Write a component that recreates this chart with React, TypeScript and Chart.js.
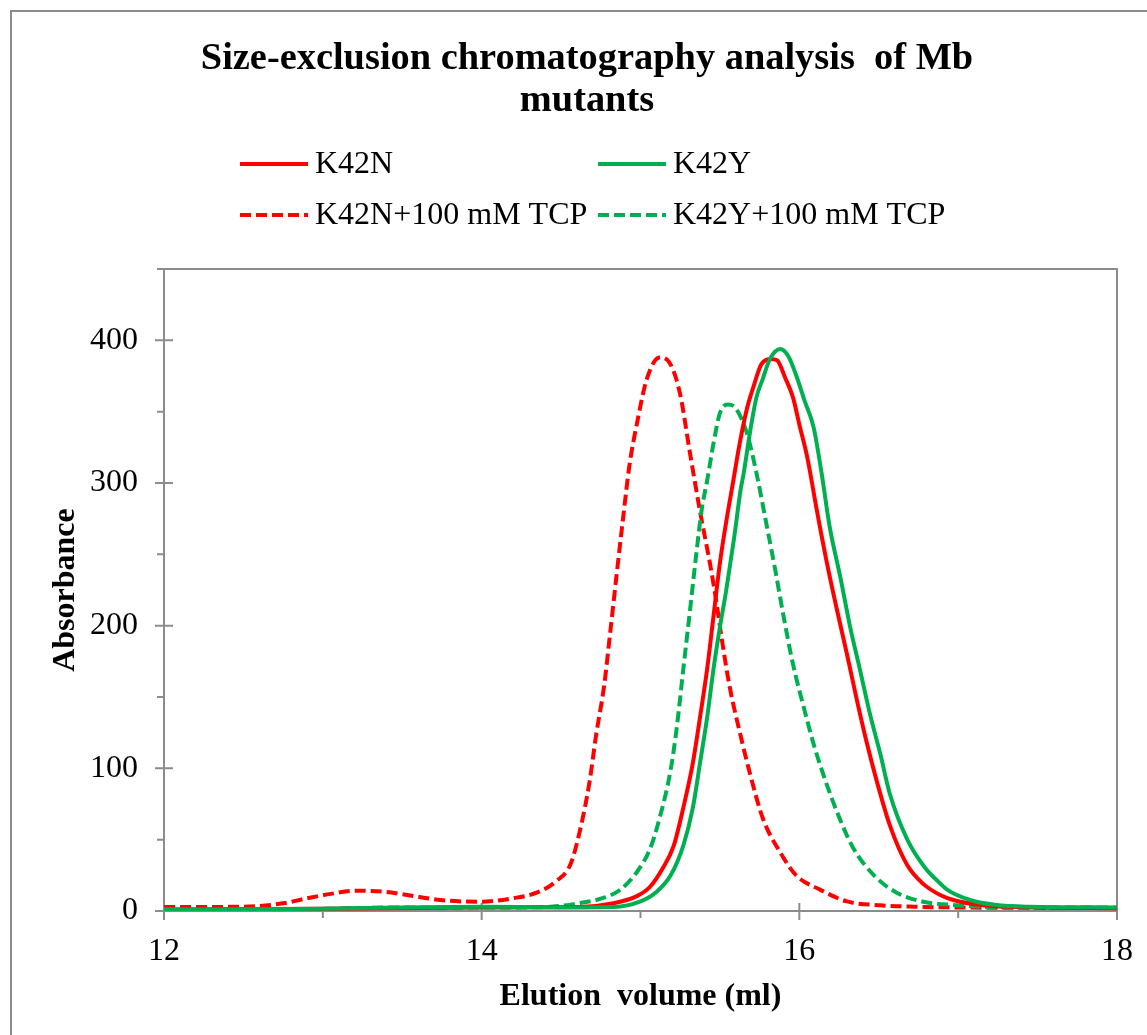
import React, { useEffect, useRef } from "react";
import { Chart, registerables } from "chart.js";

Chart.register(...registerables);

// ---------- data ----------
const titleLines = ["Size-exclusion chromatography analysis  of Mb", "mutants"];
const xTitle = "Elution  volume (ml)";
const yTitle = "Absorbance";
const seriesNames = ["K42N", "K42Y", "K42N+100 mM TCP", "K42Y+100 mM TCP"];

const xTicks = [12, 14, 16, 18];
const xMinorTicks = [13, 15, 17];
const yTicks = [0, 100, 200, 300, 400];
const yMinorTicks = [50, 150, 250, 350, 450];

// K42N (red solid)
const k42nX = [12, 13, 14, 14.62, 14.83, 14.98, 15.06, 15.14, 15.21, 15.27, 15.33, 15.375, 15.42, 15.46, 15.5, 15.54, 15.585, 15.62, 15.67, 15.71, 15.76, 15.815, 15.86, 15.91, 15.96, 16.0, 16.05, 16.11, 16.17, 16.235, 16.3, 16.36, 16.42, 16.49, 16.57, 16.68, 16.78, 16.89, 16.97, 17.14, 17.5, 18];
const k42nY = [1, 1.5, 2.5, 2.8, 5.4, 10.6, 17, 30, 46, 72.6, 104, 136, 170, 207, 244, 273, 302, 325, 352, 367, 383, 387, 386, 374, 360, 341, 318, 281, 246, 212, 180, 149, 120, 90, 60, 32, 19, 11, 7.7, 4.2, 2.5, 2];

// K42Y (green solid)
const k42yX = [12, 13, 13.5, 14, 14.5, 14.83, 15.0, 15.1, 15.19, 15.27, 15.33, 15.375, 15.42, 15.46, 15.5, 15.54, 15.59, 15.63, 15.65, 15.69, 15.73, 15.77, 15.815, 15.88, 15.93, 15.98, 16.035, 16.09, 16.14, 16.19, 16.26, 16.32, 16.38, 16.445, 16.51, 16.57, 16.68, 16.79, 16.89, 16.93, 17.075, 17.24, 17.45, 18];
const k42yY = [1, 1.5, 2.5, 3, 2.5, 2.8, 6.7, 13.3, 25, 46, 72.6, 104, 136, 170, 199, 225, 262, 295, 307, 336, 360, 373, 387, 394, 389, 375.5, 357, 339, 307, 270, 233, 199, 170, 138, 110, 82, 50, 30.5, 19, 15, 7.7, 4.2, 3, 2.5];

// K42N + 100 mM TCP (red dashed)
const k42nTcpX = [12.0, 12.5, 12.75, 12.9, 13.05, 13.21, 13.38, 13.53, 13.74, 13.99, 14.2, 14.35, 14.47, 14.56, 14.62, 14.68, 14.72, 14.77, 14.81, 14.85, 14.89, 14.93, 14.98, 15.04, 15.12, 15.19, 15.25, 15.31, 15.375, 15.44, 15.48, 15.51, 15.56, 15.63, 15.69, 15.77, 15.88, 15.98, 16.13, 16.3, 16.51, 16.72, 17.0, 17.5, 18.0];
const k42nTcpY = [2.8, 3, 5.4, 8.9, 12, 14.2, 13.5, 11.2, 7.7, 6.5, 9, 13, 21, 33, 57, 91, 123, 157, 196, 236, 275, 312, 343, 373, 388, 383, 362, 322, 280, 242, 215, 192, 158, 123, 96, 65, 41, 25, 15, 6.7, 4, 3, 2.5, 2.2, 2.0];

// K42Y + 100 mM TCP (green dashed)
const k42yTcpX = [12, 12.5, 13, 13.5, 14, 14.2, 14.41, 14.62, 14.77, 14.87, 14.98, 15.06, 15.12, 15.19, 15.23, 15.27, 15.31, 15.35, 15.385, 15.42, 15.46, 15.5, 15.55, 15.585, 15.64, 15.68, 15.73, 15.795, 15.85, 15.9, 15.96, 16.025, 16.09, 16.15, 16.235, 16.34, 16.47, 16.61, 16.78, 17.0, 17.14, 17.5, 18];
const k42yTcpY = [1, 1.2, 1.5, 2.5, 2.5, 2.5, 2.8, 5.6, 9.3, 14.7, 27.7, 43.6, 65, 99, 130, 170, 209, 249, 281, 302, 328, 349, 355, 354, 344, 331, 307, 270, 238, 207, 173, 144, 117, 96, 70, 44, 25, 13, 6.5, 4, 3, 2.5, 2.5];

// ---------- style ----------
const RED = "#FF0000";
const GREEN = "#00B050";
const AXIS = "#8c8c8c";
const SERIF = "'Liberation Serif', 'Times New Roman', serif";
const DASH = [11, 5];
const LINE_W = 4;

const toPoints = (xs: number[], ys: number[]) => xs.map((x, i) => ({ x, y: ys[i] }));

const decorPlugin = {
  id: "decor",
  beforeDatasetsDraw(chart: any) {
    const { ctx, chartArea: ca, scales } = chart;
    const x = scales.x;
    const y = scales.y;
    ctx.save();
    ctx.strokeStyle = AXIS;
    ctx.lineWidth = 2;
    ctx.strokeRect(ca.left, ca.top, ca.right - ca.left, ca.bottom - ca.top);
    ctx.beginPath();
    for (const v of yTicks) {
      const p = y.getPixelForValue(v);
      ctx.moveTo(ca.left - 9, p);
      ctx.lineTo(ca.left + 9, p);
    }
    for (const v of yMinorTicks) {
      const p = y.getPixelForValue(v);
      ctx.moveTo(ca.left - 7, p);
      ctx.lineTo(ca.left, p);
    }
    for (const v of xTicks) {
      const p = x.getPixelForValue(v);
      ctx.moveTo(p, ca.bottom - 8);
      ctx.lineTo(p, ca.bottom + 9);
    }
    for (const v of xMinorTicks) {
      const p = x.getPixelForValue(v);
      ctx.moveTo(p, ca.bottom);
      ctx.lineTo(p, ca.bottom + 7);
    }
    ctx.stroke();
    ctx.restore();
  },
  afterDraw(chart: any) {
    const { ctx } = chart;
    ctx.save();
    // outer frame (left/top visible)
    ctx.strokeStyle = AXIS;
    ctx.lineWidth = 2;
    ctx.beginPath();
    ctx.moveTo(11, 1035);
    ctx.lineTo(11, 11);
    ctx.lineTo(1147, 11);
    ctx.stroke();

    // title
    ctx.fillStyle = "#000";
    ctx.font = `bold 38.4px ${SERIF}`;
    ctx.textAlign = "center";
    ctx.textBaseline = "alphabetic";
    ctx.fillText(titleLines[0], 587, 69);
    ctx.fillText(titleLines[1], 587, 111);

    // legend
    const ds = chart.data.datasets;
    const pos = [
      { x: 240, y: 164 },
      { x: 598, y: 164 },
      { x: 240, y: 215 },
      { x: 598, y: 215 },
    ];
    ctx.font = `32px ${SERIF}`;
    ctx.textAlign = "left";
    ctx.textBaseline = "middle";
    ds.forEach((d: any, i: number) => {
      const p = pos[i];
      ctx.save();
      ctx.strokeStyle = d.borderColor;
      ctx.lineWidth = LINE_W;
      ctx.setLineDash(d.borderDash || []);
      ctx.beginPath();
      ctx.moveTo(p.x, p.y);
      ctx.lineTo(p.x + 68, p.y);
      ctx.stroke();
      ctx.restore();
      ctx.fillStyle = "#000";
      ctx.fillText(d.label, p.x + 75, p.y + 1);
    });
    ctx.restore();
  },
};

export default function App() {
  const ref = useRef<HTMLCanvasElement | null>(null);

  useEffect(() => {
    document.body.style.margin = "0";
    const canvas = ref.current;
    if (!canvas) return;
    const mk = (label: string, xs: number[], ys: number[], color: string, dashed: boolean, order: number) => ({
      label,
      data: toPoints(xs, ys),
      borderColor: color,
      backgroundColor: color,
      borderWidth: LINE_W,
      borderDash: dashed ? DASH : [],
      pointRadius: 0,
      pointHoverRadius: 0,
      showLine: true,
      fill: false,
      tension: 0.4,
      cubicInterpolationMode: "monotone" as const,
      order,
    });
    const chart = new Chart(canvas, {
      type: "scatter",
      data: {
        datasets: [
          mk(seriesNames[0], k42nX, k42nY, RED, false, 1),
          mk(seriesNames[1], k42yX, k42yY, GREEN, false, 0),
          mk(seriesNames[2], k42nTcpX, k42nTcpY, RED, true, 3),
          mk(seriesNames[3], k42yTcpX, k42yTcpY, GREEN, true, 2),
        ] as any,
      },
      options: {
        responsive: false,
        animation: false,
        layout: { padding: { top: 269, left: 0, right: 30, bottom: 0 } },
        plugins: {
          legend: { display: false },
          title: { display: false },
          tooltip: { enabled: false },
        },
        scales: {
          x: {
            type: "linear",
            min: 12,
            max: 18,
            afterBuildTicks: (s: any) => {
              s.ticks = xTicks.map((v) => ({ value: v }));
            },
            afterFit: (s: any) => {
              s.height = 124;
              s.paddingLeft = 0;
              s.paddingRight = 0;
            },
            grid: { display: false, drawTicks: false },
            border: { display: false },
            ticks: {
              color: "#000",
              font: { family: SERIF, size: 32 },
              padding: 21,
              maxRotation: 0,
              autoSkip: false,
            },
            title: {
              display: true,
              text: xTitle,
              color: "#000",
              font: { family: SERIF, size: 32, weight: "bold" },
              padding: { top: 0, bottom: 19 },
            },
          },
          y: {
            type: "linear",
            min: 0,
            max: 450,
            afterBuildTicks: (s: any) => {
              s.ticks = yTicks.map((v) => ({ value: v }));
            },
            afterFit: (s: any) => {
              s.width = 164;
              s.paddingTop = 0;
              s.paddingBottom = 0;
            },
            grid: { display: false, drawTicks: false },
            border: { display: false },
            ticks: {
              color: "#000",
              font: { family: SERIF, size: 32 },
              padding: 26,
              autoSkip: false,
            },
            title: {
              display: true,
              text: yTitle,
              color: "#000",
              font: { family: SERIF, size: 32, weight: "bold" },
              padding: { top: 47, bottom: 0 },
            },
          },
        },
      },
      plugins: [decorPlugin],
    });
    return () => chart.destroy();
  }, []);

  return (
    <div style={{ width: 1147, height: 1035, background: "#fff" }}>
      <canvas ref={ref} width={1147} height={1035} style={{ display: "block" }} />
    </div>
  );
}
